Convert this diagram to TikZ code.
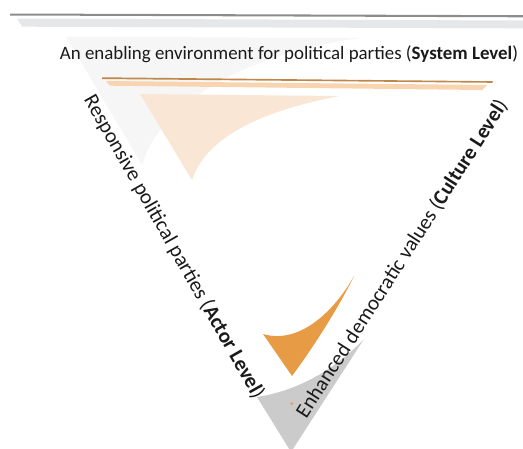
\documentclass[tikz,border=0pt]{standalone}
\usepackage{fontspec}
\setmainfont{Carlito}
\definecolor{darkgreyline}{HTML}{8C8C8C}
\definecolor{lightgreyband}{HTML}{E6E7E8}
\definecolor{faintsail}{HTML}{F6F6F7}
\definecolor{tanline}{HTML}{C0874A}
\definecolor{lightorangeband}{HTML}{F8D5B0}
\definecolor{orangesail}{HTML}{FAE6D4}
\definecolor{checkorange}{HTML}{E89B45}
\definecolor{bottomgrey}{HTML}{CBCBCB}
\definecolor{textblack}{HTML}{1A1A1A}
\begin{document}
\begin{tikzpicture}[x=1pt,y=-1pt,
  lbl/.style={inner sep=0pt,text=textblack,font=\fontsize{18.9}{20}\selectfont},
  sidelbl/.style={inner sep=0pt,text=textblack,font=\fontsize{21}{22}\selectfont}]
\path[use as bounding box] (0,0) rectangle (523,448);
\clip (0,0) rectangle (523,448);
% top grey bars
\fill[darkgreyline] (10,13.5) -- (523,15.2) -- (523,17.3) -- (10,15.5) -- cycle;
\fill[lightgreyband] (17,18.5) -- (523,20.5) -- (523,28.3) -- (22,26.7) -- cycle;
% faint sail
\fill[faintsail] (66,36.7) -- (360,38) .. controls (240,55) and (160,105) .. (142,165) -- cycle;
% orange bars
\fill[tanline] (102,77.3) -- (492.5,81.2) -- (492.5,82.8) -- (102,79) -- cycle;
\fill[lightorangeband] (106,81) -- (487,85) -- (482,90) -- (110,85.7) -- cycle;
% orange sail
\fill[orangesail] (140,94) -- (340,96) .. controls (255,112) and (205,140) .. (192,180) -- cycle;
% check
\fill[checkorange] (263,334) .. controls (300,345) and (335,310) .. (354,276)
  .. controls (340,305) and (315,345) .. (292,376) -- cycle;
% bottom grey
\fill[bottomgrey] (257,397) .. controls (290,392) and (330,375) .. (364,339)
  -- (291,452) -- cycle;
% small orange mark
\fill[checkorange] (290,402.5) -- (293.5,402.5) -- (291.8,405.5) -- cycle;
% labels
\node[lbl,anchor=base] (sys) at (289,59) {An enabling environment for political parties (\textbf{System Level})};
\node[sidelbl,rotate=-60.4] (act) at (174,247) {Responsive political parties (\textbf{Actor Level})};
\node[sidelbl,rotate=57.3] (cul) at (402,259) {Enhanced democratic values (\textbf{Culture Level})};
\end{tikzpicture}
\end{document}
